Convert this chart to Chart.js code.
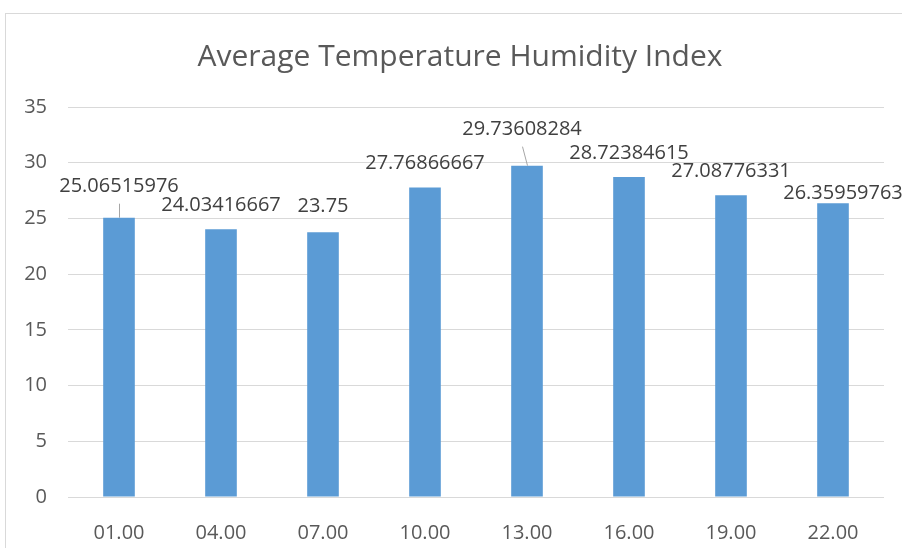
<!DOCTYPE html>
<html>
<head>
<meta charset="utf-8">
<script src="https://cdn.jsdelivr.net/npm/chart.js@4"></script>
<style>
  html, body { margin: 0; padding: 0; background: #fff; overflow: hidden; }
  #wrap { position: relative; width: 902px; height: 548px; }
  #frame { position: absolute; left: 5px; top: 13px; width: 1000px; height: 1000px; border: 1px solid #d9d9d9; box-sizing: border-box; }
  #thiChart { position: absolute; left: 0; top: 0; }
</style>
</head>
<body>
<div id="wrap">
  <div id="frame"></div>
  <canvas id="thiChart" width="902" height="548"></canvas>
</div>
<script>
  // data
  var hours = ['01.00', '04.00', '07.00', '10.00', '13.00', '16.00', '19.00', '22.00'];
  var thiValues = [25.06515976, 24.03416667, 23.75, 27.76866667, 29.73608284, 28.72384615, 27.08776331, 26.35959763];
  var yTicks = [0, 5, 10, 15, 20, 25, 30, 35];

  var fontName = "'Open Sans', 'Noto Sans', sans-serif";

  // data labels drawn above the bars, some with a leader line (like excel)
  var barLabels = {
    id: 'barLabels',
    afterLayout: function(chart) {
      // let the y tick labels use the left padding too (otherwise they get clipped)
      chart.scales.y.left = 0;
    },
    afterDatasetsDraw: function(chart, args, opts) {
      var ctx = chart.ctx;
      var meta = chart.getDatasetMeta(0);
      ctx.save();
      ctx.font = opts.size + 'px ' + fontName;
      ctx.fillStyle = opts.color;
      ctx.textAlign = 'center';
      ctx.textBaseline = 'middle';
      meta.data.forEach(function(bar, i) {
        var off = opts.offsets[i];
        var tx = bar.x + off[0];
        var ty = bar.y - off[1];
        if (off[2]) {
          ctx.strokeStyle = '#a6a6a6';
          ctx.lineWidth = 1;
          ctx.beginPath();
          ctx.moveTo(Math.round(bar.x) + 0.5, bar.y);
          ctx.lineTo(Math.round(tx) + 0.5, ty + 17);
          ctx.stroke();
        }
        ctx.fillText(String(thiValues[i]), tx, ty);
      });
      ctx.restore();
    }
  };

  var ctx = document.getElementById('thiChart');
  var chart = new Chart(ctx, {
    type: 'bar',
    data: {
      labels: hours,
      datasets: [{
        label: 'THI',
        data: thiValues,
        backgroundColor: '#5b9bd5',
        borderWidth: 0,
        barPercentage: 0.31,
        categoryPercentage: 1.0
      }]
    },
    plugins: [barLabels],
    options: {
      responsive: false,
      animation: false,
      // left padding keeps the title centred on the (wider) frame
      layout: { padding: { left: 36, right: 18, top: 0, bottom: 0 } },
      plugins: {
        legend: { display: false },
        tooltip: { enabled: false },
        title: {
          display: true,
          text: 'Average Temperature Humidity Index',
          color: '#595959',
          font: { family: fontName, size: 30, weight: 'normal' },
          padding: { top: 39, bottom: 32 }
        },
        barLabels: {
          size: 20,
          color: '#404040',
          // [dx, dy, leader line]
          offsets: [[0, 31, true], [0, 24], [0, 26], [0, 24], [-5, 36, true], [0, 24], [0, 24], [10, 10]]
        }
      },
      scales: {
        x: {
          grid: { display: false },
          border: { display: false },
          ticks: { color: '#595959', font: { family: fontName, size: 20 }, padding: 16 },
          afterFit: function(scale) { scale.height = 51; }
        },
        y: {
          min: 0,
          max: 35,
          afterBuildTicks: function(scale) { scale.ticks = yTicks.map(function(v) { return { value: v }; }); },
          grid: { color: '#d9d9d9', drawTicks: false },
          border: { display: false },
          ticks: { color: '#595959', font: { family: fontName, size: 20 }, padding: 21 },
          afterFit: function(scale) { scale.width = 32; }
        }
      }
    }
  });
</script>
</body>
</html>
